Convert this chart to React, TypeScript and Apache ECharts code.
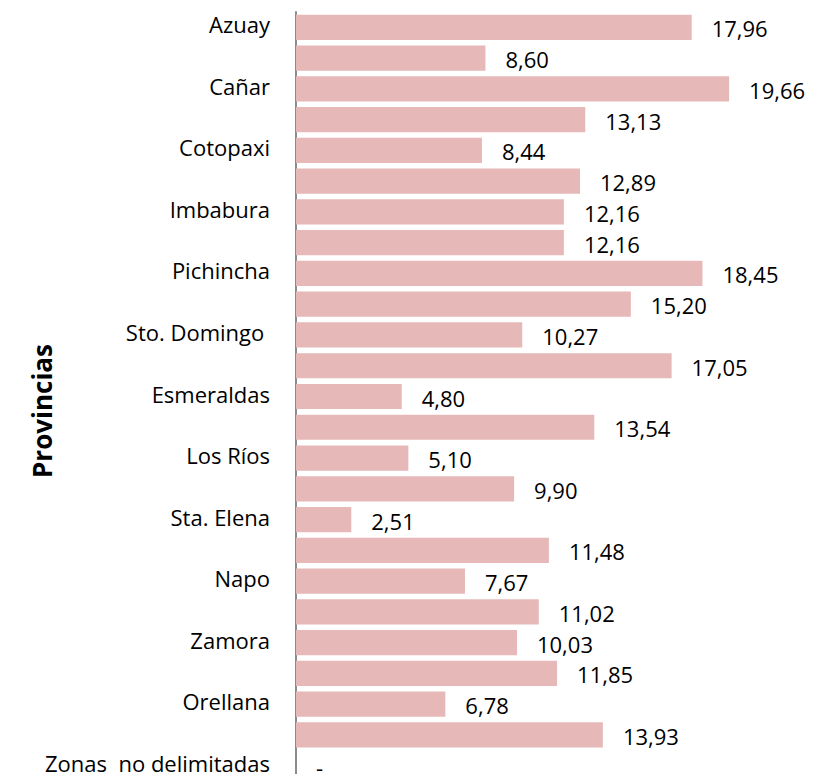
import React, { useEffect, useRef } from "react";
import * as echarts from "echarts";

const provinces = [
  "Azuay", "Bolívar", "Cañar", "Carchi", "Cotopaxi", "Chimborazo",
  "Imbabura", "Loja", "Pichincha", "Tungurahua", "Sto. Domingo ", "El Oro",
  "Esmeraldas", "Guayas", "Los Ríos", "Manabí", "Sta. Elena", "Morona Santiago",
  "Napo", "Pastaza", "Zamora", "Sucumbíos", "Orellana", "Galápagos",
  "Zonas  no delimitadas",
];

const values = [
  17.96, 8.6, 19.66, 13.13, 8.44, 12.89,
  12.16, 12.16, 18.45, 15.2, 10.27, 17.05,
  4.8, 13.54, 5.1, 9.9, 2.51, 11.48,
  7.67, 11.02, 10.03, 11.85, 6.78, 13.93,
  0,
];

const axisTitle = "Provincias";

export default function App() {
  const ref = useRef<HTMLDivElement>(null);
  useEffect(() => {
    const chart = echarts.init(ref.current!, null, { renderer: "svg" });
    const font = "'Open Sans', sans-serif";
    chart.setOption({
      animation: false,
      backgroundColor: "#ffffff",
      grid: { left: 296, right: 80.4, top: 12, bottom: 0, containLabel: false },
      xAxis: {
        type: "value",
        min: 0,
        max: 20,
        show: false,
      },
      yAxis: {
        type: "category",
        inverse: true,
        data: provinces,
        axisLine: { show: true, lineStyle: { color: "#8c8c8c", width: 2 } },
        axisTick: { show: false },
        axisLabel: {
          interval: 1,
          margin: 26,
          color: "#000000",
          fontFamily: font,
          fontSize: 22,
          formatter: (v: string) => `{a|${v}}`,
          rich: {
            a: {
              fontFamily: font,
              fontSize: 22,
              color: "#000000",
              lineHeight: 24,
              padding: [0, 0, 6, 0],
            },
          },
        },
      },
      graphic: [
        {
          type: "text",
          x: 42,
          y: 411,
          rotation: Math.PI / 2,
          style: {
            text: axisTitle,
            fill: "#000000",
            font: `bold 26px ${font}`,
            align: "center",
            verticalAlign: "middle",
          },
        },
      ],
      series: [
        {
          type: "bar",
          data: values,
          barCategoryGap: "18%",
          itemStyle: { color: "#E6B8B7" },
          label: {
            show: true,
            position: "right",
            distance: 20,
            offset: [0, 1],
            color: "#000000",
            fontFamily: font,
            fontSize: 22,
            lineHeight: 22,
            formatter: (p: any) =>
              p.value === 0 ? "-" : Number(p.value).toFixed(2).replace(".", ","),
          },
        },
      ],
    });
    return () => chart.dispose();
  }, []);
  return (
    <div
      ref={ref}
      style={{ position: "fixed", left: 0, top: 0, width: 817, height: 781 }}
    />
  );
}
